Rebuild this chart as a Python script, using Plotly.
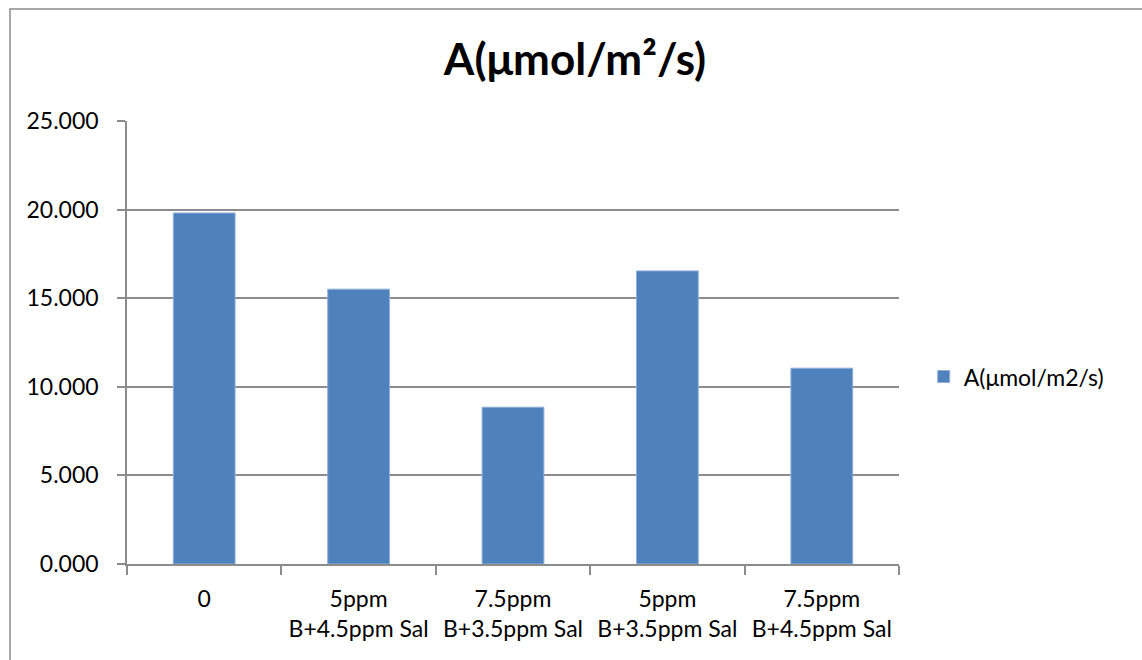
import plotly.graph_objects as go

# Treatments and measured net photosynthesis rate
categories = [
    "0",
    "5ppm<br>B+4.5ppm Sal",
    "7.5ppm<br>B+3.5ppm Sal",
    "5ppm<br>B+3.5ppm Sal",
    "7.5ppm<br>B+4.5ppm Sal",
]
values = [19.81, 15.51, 8.85, 16.54, 11.05]
series_name = "A(μmol/m2/s)"
title_text = "A(μmol/m²/s)"

FONT = "Lato"
GRID = "#8c8c8c"
BAR = "#4f81bd"

W, H = 1142, 660
L, R, T, B = 127, 243, 121, 96

fig = go.Figure(
    go.Bar(
        x=categories,
        y=values,
        name=series_name,
        marker=dict(color=BAR, line=dict(color="#8fb0d8", width=1)),
        showlegend=True,
    )
)

fig.update_layout(
    width=W,
    height=H,
    margin=dict(l=L, r=R, t=T, b=B, autoexpand=False),
    paper_bgcolor="white",
    plot_bgcolor="white",
    font=dict(family=FONT, size=23, color="black"),
    bargap=0.6,
    title=dict(
        text=title_text,
        font=dict(family=FONT, size=44, color="black", weight="bold"),
        x=0.5035,
        xref="container",
        xanchor="center",
        y=1 - 60 / H,
        yref="container",
        yanchor="middle",
    ),
    legend=dict(
        x=1.032,
        y=0.423,
        xanchor="left",
        yanchor="middle",
        font=dict(family=FONT, size=23, color="black"),
        bgcolor="rgba(0,0,0,0)",
    ),
    xaxis=dict(
        type="category",
        showline=True,
        linecolor=GRID,
        linewidth=1.5,
        ticks="outside",
        tickson="boundaries",
        ticklen=9,
        tickcolor=GRID,
        tickwidth=1.5,
        showgrid=False,
        ticklabelstandoff=14,
        tickfont=dict(family=FONT, size=23),
    ),
    yaxis=dict(
        range=[0, 25],
        dtick=5,
        tickformat=".3f",
        showline=True,
        linecolor=GRID,
        linewidth=1.5,
        ticks="outside",
        ticklen=8,
        tickcolor=GRID,
        tickwidth=1.5,
        showgrid=True,
        gridcolor=GRID,
        gridwidth=1.5,
        zeroline=False,
        ticklabelstandoff=14,
        tickfont=dict(family=FONT, size=23),
    ),
    shapes=[
        dict(
            type="rect",
            xref="paper",
            yref="paper",
            x0=(10 - L) / (W - L - R),
            x1=1.5,
            y0=-0.5,
            y1=(H - B - 9) / (H - T - B),
            line=dict(color="#8a8a8a", width=1.5),
            fillcolor="rgba(0,0,0,0)",
            layer="below",
        )
    ],
)

fig.write_html("out.html")
